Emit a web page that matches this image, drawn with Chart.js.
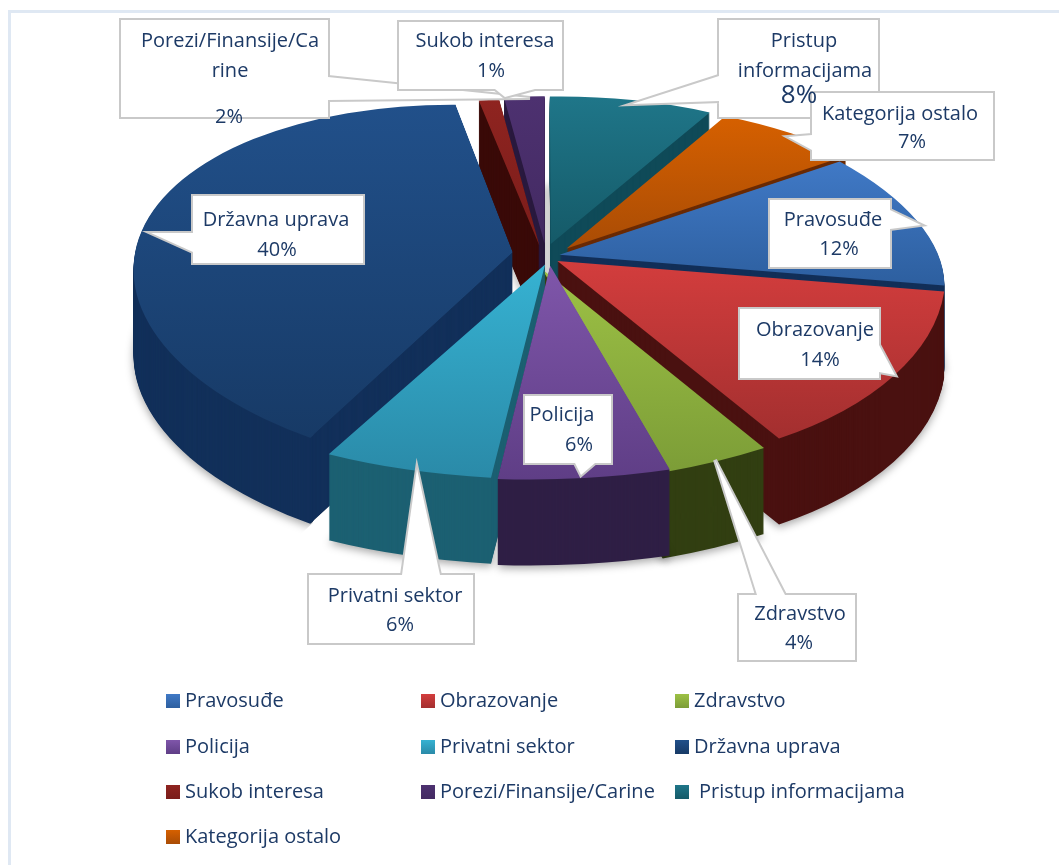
<!DOCTYPE html>
<html><head><meta charset="utf-8">
<script src="https://cdn.jsdelivr.net/npm/chart.js@4/dist/chart.umd.min.js"></script>
<style>
html,body{margin:0;padding:0;background:#fff;overflow:hidden}
#wrap{position:relative;width:1059px;height:865px}
#frame{position:absolute;left:8px;top:10px;width:1060px;height:870px;border-left:3px solid #dfe8f3;border-top:3px solid #dfe8f3}
canvas{position:absolute;left:0;top:0}
</style></head><body>
<div id="wrap"><div id="frame"></div><canvas id="c" width="1059" height="865"></canvas></div>
<script>
const categories=['Pravosuđe','Obrazovanje','Zdravstvo','Policija','Privatni sektor','Državna uprava','Sukob interesa','Porezi/Finansije/Carine','Pristup informacijama','Kategorija ostalo'];
const values=[12,14,4,6,6,40,1,2,8,7];
const topLight=['#4079c6','#d33d3d','#9dc145','#7f56aa','#36b2d2','#21508a','#8f2420','#4d3170','#1f7689','#d66000'];
const topDark =['#2d5f9f','#a32f2f','#7c9d37','#5f3e86','#2a8aa8','#173a66','#7a1c1a','#432a62','#155a68','#a94c05'];
const wallColors=['#122f58','#4a1110','#323f12','#2f1f45','#1c6072','#12305a','#3a0a08','#2a1a3f','#0f4a58','#6a2a04'];
const explode=[.05,.04,.05,.05,.05,.085,.06,.06,.06,.05];
const nudgeX=[-4,0,-10,4,6,0,-2,1,0,9];
const nudgeY=[3,3,7,3,2,0,2,0,0,1];
const frontShear=[24,24,24,24,24,6,0,0,0,0];
const calloutLabels=[
 {lines:['Pravosuđe','12%'],cx:[833,839],cy:[220,249],box:[770,200,120,67],ptr:[[890,210],[921,225],[890,229]]},
 {lines:['Obrazovanje','14%'],cx:[815,820],cy:[330,360],box:[740,309,139,69],ptr:[[879,345],[895,375],[879,372]]},
 {lines:['Zdravstvo','4%'],cx:[800,799],cy:[614,643],box:[739,595,116,65],ptr:[[757,595],[715,460],[785,595]]},
 {lines:['Policija','6%'],cx:[562,579],cy:[415,445],box:[525,396,86,67],ptr:[[575,463],[581,475],[595,463]]},
 {lines:['Privatni sektor','6%'],cx:[395,400],cy:[596,625],box:[309,575,164,68],ptr:[[402,575],[417,469],[440,575]]},
 {lines:['Državna uprava','40%'],cx:[276,277],cy:[220,250],box:[193,196,170,67],ptr:[[193,233],[151,233],[193,252]]},
 {lines:['Porezi/Finansije/Ca','rine','2%'],cx:[230,230,229],cy:[41,71,117],box:[121,20,207,97],ptr:[[328,77],[530,98],[328,100]]},
 {lines:['Sukob interesa','1%'],cx:[485,491],cy:[41,71],box:[399,22,163,67],ptr:[[495,89],[505,97],[535,89]]},
 {lines:['Pristup','informacijama','8%'],cx:[804,805,799],cy:[41,71,96],box:[719,20,159,97],ptr:[[719,76],[632,104],[719,101]],big:2},
 {lines:['Kategorija ostalo','7%'],cx:[900,912],cy:[114,142],box:[812,93,181,66],ptr:[[812,135],[788,137],[812,150]]}
];
const legendCols=[166,421,675], legendRows=[701,747,792,837];
const textColor='#1d3a66', fontFam='"Open Sans","Noto Sans",sans-serif';
const cam={cx:545,cy:254,rx:383,ry:175,p:.166,depth:86,skewY:8};

function project(u,v,shear){
  const w=1+cam.p*v,front=v<0?1:0;
  return [cam.cx+cam.rx*u/w+front*shear*v, cam.cy-cam.ry*v/w+front*Math.max(u,0)*cam.skewY];
}
function solve(s,d){
  const [a,b,c]=s,det=(b[0]-a[0])*(c[1]-a[1])-(c[0]-a[0])*(b[1]-a[1]);
  const f=i=>{const p=((d[1][i]-d[0][i])*(c[1]-a[1])-(d[2][i]-d[0][i])*(b[1]-a[1]))/det,
    q=((d[2][i]-d[0][i])*(b[0]-a[0])-(d[1][i]-d[0][i])*(c[0]-a[0]))/det;
    return [p,q,d[0][i]-p*a[0]-q*a[1]];};
  const X=f(0),Y=f(1);return {A:X[0],C:X[1],E:X[2],B:Y[0],D:Y[1],F:Y[2]};
}
function frame(arc,i){
  const a1=arc.startAngle,a2=arc.endAngle,am=(a1+a2)/2,e=explode[i],r=arc.outerRadius;
  const ex=Math.cos(am)*e,ey=-Math.sin(am)*e;
  const dst=(ang,rad)=>{const p=project(ex+rad*Math.cos(ang),ey-rad*Math.sin(ang),frontShear[i]);return [p[0]+nudgeX[i],p[1]+nudgeY[i]];};
  const src=(ang,rad)=>[arc.x+rad*r*Math.cos(ang),arc.y+rad*r*Math.sin(ang)];
  const ap=dst(a1,0),s=dst(a1,1),t=dst(a2,1);
  const ys=[ap[1],s[1],t[1],dst(am,1)[1]];
  const out={y0:Math.min(...ys),y1:Math.max(...ys),ap,s,t};
  out.wedge=solve([src(a1,0),src(a1,1),src(a2,1)],[ap,s,t]);
  if(a2-a1>Math.PI/2){
    out.rim=solve([src(a1,1),src(am,1),src(a2,1)],[s,dst(am,1),t]);
    out.far=dst(am,3);
  }
  return out;
}
function gradientFor(ctx,arc,m,f,i){
  const n2=m.B*m.B+m.D*m.D,nx=m.B/n2,ny=m.D/n2;
  const yAt=m.B*arc.x+m.D*arc.y+m.F;
  const x0=arc.x+nx*(f.y0-yAt),y0=arc.y+ny*(f.y0-yAt);
  const g=ctx.createLinearGradient(x0,y0,x0+nx*(f.y1-f.y0),y0+ny*(f.y1-f.y0));
  g.addColorStop(0,topLight[i]);g.addColorStop(1,topDark[i]);
  return g;
}
function paint(ctx,arc,m,dy,color){
  const o=Object.create(arc.__base);o.backgroundColor=color;o.borderWidth=0;
  arc.options=o;
  ctx.save();ctx.transform(m.A,m.B,m.C,m.D,m.E,m.F+dy);arc.draw(ctx);ctx.restore();
}
function paintSlice(ctx,arc,f,i,dy,wall){
  if(!f.rim){paint(ctx,arc,f.wedge,dy,wall||gradientFor(ctx,arc,f.wedge,f,i));return;}
  const {s,t,ap}=f;
  const mx=(s[0]+t[0])/2,my=(s[1]+t[1])/2;
  let nx=mx-ap[0],ny=my-ap[1];const l=Math.hypot(nx,ny);nx/=l;ny/=l;
  ctx.save();ctx.beginPath();
  ctx.moveTo(s[0]-nx*2,s[1]-ny*2+dy);ctx.lineTo(t[0]-nx*2,t[1]-ny*2+dy);
  ctx.lineTo(t[0]+(t[0]-ap[0])*3,t[1]+(t[1]-ap[1])*3+dy);
  ctx.lineTo(mx+nx*3000,my+ny*3000+dy);
  ctx.lineTo(s[0]+(s[0]-ap[0])*3,s[1]+(s[1]-ap[1])*3+dy);ctx.closePath();ctx.clip();
  paint(ctx,arc,f.rim,dy,wall||gradientFor(ctx,arc,f.rim,f,i));
  ctx.restore();
  ctx.save();ctx.beginPath();
  ctx.moveTo(ap[0],ap[1]+dy);ctx.lineTo(s[0],s[1]+dy);ctx.lineTo(t[0],t[1]+dy);ctx.closePath();ctx.clip();
  paint(ctx,arc,f.wedge,dy,wall||gradientFor(ctx,arc,f.wedge,f,i));
  ctx.restore();
}
const pie3d={id:'pie3d',
  beforeDatasetDraw(chart){
    const ctx=chart.ctx,arcs=chart.getDatasetMeta(0).data;
    const order=arcs.map((arc,i)=>({arc,i,f:frame(arc,i),mid:(arc.startAngle+arc.endAngle)/2})).sort((p,q)=>Math.sin(p.mid)-Math.sin(q.mid));
    order.forEach(({arc,i,f})=>{
      arc.__base=arc.options;
      for(let d=cam.depth;d>0;d-=1){
        ctx.save();
        if(d===cam.depth){ctx.shadowColor='rgba(0,0,0,.35)';ctx.shadowBlur=8;ctx.shadowOffsetY=3;}
        paintSlice(ctx,arc,f,i,d,wallColors[i]);
        ctx.restore();
      }
      paintSlice(ctx,arc,f,i,0,null);
      arc.options=arc.__base;
    });
    return false;
  },
  afterDraw(chart){
    const ctx=chart.ctx;
    ctx.save();
    calloutLabels.forEach(c=>{
      const [x,y,w,h]=c.box;
      ctx.beginPath();ctx.rect(x,y,w,h);ctx.moveTo(c.ptr[0][0],c.ptr[0][1]);ctx.lineTo(c.ptr[1][0],c.ptr[1][1]);ctx.lineTo(c.ptr[2][0],c.ptr[2][1]);ctx.closePath();
      ctx.lineWidth=4;ctx.strokeStyle='#c9c9c9';ctx.stroke();
      ctx.fillStyle='#fff';
      ctx.beginPath();ctx.rect(x,y,w,h);ctx.fill();
      ctx.beginPath();ctx.moveTo(c.ptr[0][0],c.ptr[0][1]);ctx.lineTo(c.ptr[1][0],c.ptr[1][1]);ctx.lineTo(c.ptr[2][0],c.ptr[2][1]);ctx.closePath();ctx.fill();
    });
    ctx.fillStyle=textColor;ctx.textAlign='center';ctx.textBaseline='middle';
    calloutLabels.forEach(c=>c.lines.forEach((t,k)=>{
      ctx.font=(c.big===k?'26px ':'20px ')+fontFam;
      ctx.fillText(t,c.cx[k],c.cy[k]);
    }));
    ctx.textAlign='left';ctx.font='20px '+fontFam;
    chart.data.labels.forEach((t,i)=>{
      const col=i%3,row=Math.floor(i/3),x=legendCols[col],y=legendRows[row];
      const g=ctx.createLinearGradient(0,y-7,0,y+7);g.addColorStop(0,topLight[i]);g.addColorStop(1,topDark[i]);
      ctx.fillStyle=g;ctx.fillRect(x,y-7,14,14);
      ctx.fillStyle=textColor;
      ctx.fillText(t,x+(i===8?24:19),y);
    });
    ctx.restore();
  }
};
new Chart(document.getElementById('c'),{
  type:'pie',
  data:{labels:categories,datasets:[{data:values,backgroundColor:topLight,borderWidth:0}]},
  options:{responsive:false,animation:false,rotation:54,layout:{padding:0},
    plugins:{legend:{display:false},tooltip:{enabled:false}}},
  plugins:[pie3d]
});
</script></body></html>
